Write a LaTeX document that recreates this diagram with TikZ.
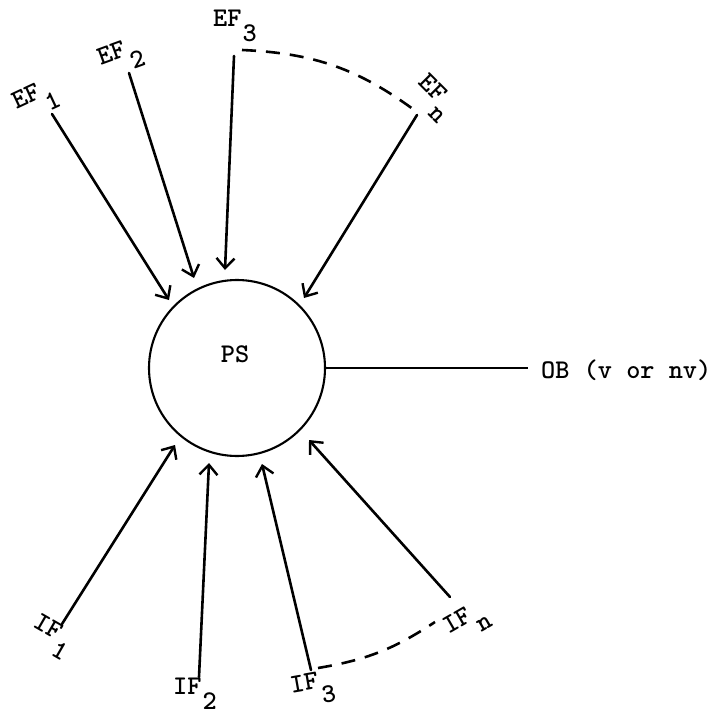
\documentclass[tikz,border=0pt]{standalone}
\usetikzlibrary{arrows.meta}
\begin{document}
\begin{tikzpicture}[x=1pt,y=-1pt,
  lab/.style={font=\ttfamily\bfseries\fontsize{27}{30}\selectfont, inner sep=0pt},
  arr/.style={line width=2.6pt, line cap=round, -{Straight Barb[length=10pt,width=18pt,line width=2.4pt]}},
  dashline/.style={line width=2.6pt, dash pattern=on 14pt off 10pt},
  plain/.style={line width=2.2pt}
]
\useasboundingbox (0,0) rectangle (724,715);
% central circle
\node[circle, draw, line width=2.1pt, minimum size=176pt, inner sep=0pt] (ps) at (237,368) {};
\node[lab] (pstext) at (235,354) {PS};
% output
\node[lab, anchor=base west] (ob) at (541,378) {OB (v or nv)};
\draw[plain] (ps.east) -- ([xshift=-13pt]ps.east -| ob.west);
% external factor labels
\node[lab, rotate=25] (ef1) at (36,100) {EF\kern1pt\raisebox{-15pt}{1}};
\node[lab, rotate=20] (ef2) at (121,57) {EF\kern1pt\raisebox{-15pt}{2}};
\node[lab] (ef3) at (235,26) {EF\kern1pt\raisebox{-15pt}{3}};
\node[lab, rotate=-45] (efn) at (433,98) {EF\kern1pt\raisebox{-15pt}{n}};
% internal factor labels
\node[lab, rotate=-30] (if1) at (51,637) {IF\kern1pt\raisebox{-15pt}{1}};
\node[lab] (if2) at (195,694) {IF\kern1pt\raisebox{-15pt}{2}};
\node[lab, rotate=10] (if3) at (313,689) {IF\kern1pt\raisebox{-15pt}{3}};
\node[lab, rotate=30] (ifn) at (467,623) {IF\kern1pt\raisebox{-15pt}{n}};
% connector ends
\coordinate (s1) at (52,114);  \coordinate (t1) at (169,300);
\coordinate (s2) at (129,73);  \coordinate (t2) at (194,278);
\coordinate (s3) at (234,56);  \coordinate (t3) at (225,270);
\coordinate (s4) at (417,115); \coordinate (t4) at (304,298);
\coordinate (u1) at (62,624);  \coordinate (v1) at (175,445);
\coordinate (u2) at (199,677); \coordinate (v2) at (209,463);
\coordinate (u3) at (311,670); \coordinate (v3) at (262,464);
\coordinate (u4) at (450,597); \coordinate (v4) at (309,440);
\coordinate (d1) at (242,50);  \coordinate (d2) at (417,112);
\coordinate (e1) at (318,668); \coordinate (e2) at (435,622);
% arrows
\draw[arr] (s1) -- (t1);
\draw[arr] (s2) -- (t2);
\draw[arr] (s3) -- (t3);
\draw[arr] (s4) -- (t4);
\draw[arr] (u1) -- (v1);
\draw[arr] (u2) -- (v2);
\draw[arr] (u3) -- (v3);
\draw[arr] (u4) -- (v4);
% dashed arcs
\draw[dashline] (d1) to[bend left=17] (d2);
\draw[dashline] (e1) to[bend right=12] (e2);
\end{tikzpicture}
\end{document}
